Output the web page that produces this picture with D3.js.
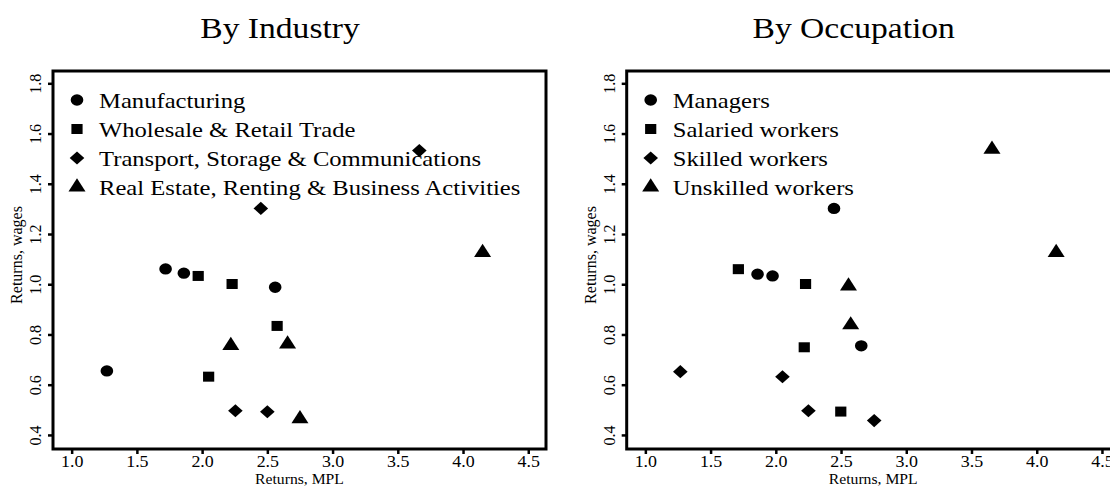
<!DOCTYPE html>
<html>
<head>
<meta charset="utf-8">
<script src="https://cdn.jsdelivr.net/npm/d3@7"></script>
<style>
  body { margin: 0; background: #fff; }
  svg { display: block; }
  text { font-family: "Liberation Serif", "Times New Roman", serif; fill: #000; }
</style>
</head>
<body>
<svg id="chart"></svg>
<script>
// tick values
const mplTicks = [1.0, 1.5, 2.0, 2.5, 3.0, 3.5, 4.0, 4.5];
const wageTicks = [0.4, 0.6, 0.8, 1.0, 1.2, 1.4, 1.6, 1.8];

// panel 1: by industry
const industryNames = ["Manufacturing", "Wholesale & Retail Trade",
  "Transport, Storage & Communications", "Real Estate, Renting & Business Activities"];
const industryMPL = [
  [1.27, 1.72, 1.86, 2.56],
  [1.97, 2.23, 2.575, 2.05],
  [3.665, 2.45, 2.255, 2.50],
  [4.15, 2.22, 2.655, 2.75]
];
const industryWages = [
  [0.655, 1.061, 1.044, 0.988],
  [1.033, 1.001, 0.834, 0.632],
  [1.532, 1.302, 0.496, 0.492],
  [1.126, 0.756, 0.762, 0.464]
];

// panel 2: by occupation
const occupationNames = ["Managers", "Salaried workers", "Skilled workers", "Unskilled workers"];
const occupationMPL = [
  [2.446, 1.86, 1.975, 2.655],
  [1.713, 2.228, 2.218, 2.498],
  [1.268, 2.051, 2.25, 2.754],
  [3.657, 4.149, 2.557, 2.574]
];
const occupationWages = [
  [1.302, 1.040, 1.033, 0.755],
  [1.060, 1.001, 0.749, 0.493],
  [0.652, 0.632, 0.496, 0.457],
  [1.537, 1.126, 0.993, 0.838]
];

const W = 1110, H = 487;
const SX = 1.12; // source picture is a bit wider than tall

const svg = d3.select("#chart").attr("width", W).attr("height", H);

// marker shapes: circle, square, diamond, triangle
const symbols = [
  d3.symbol().type(d3.symbolCircle).size(100),
  d3.symbol().type(d3.symbolSquare).size(100),
  d3.symbol().type(d3.symbolSquare).size(85),
  d3.symbol().type(d3.symbolTriangle).size(100)
];
const symRotate = [0, 0, 45, 0];

function drawPanel(left, title, names, mpl, wages) {
  const w = 493, h = 378, top = 71;

  const x = d3.scaleLinear().domain([0.857, 4.636]).range([0, w]);
  const y = d3.scaleLinear().domain([0.344, 1.849]).range([h, 0]);

  const g = svg.append("g").attr("transform", `translate(${left},${top})`);

  // title (centered on the whole panel region)
  g.append("text")
    .attr("transform", `translate(${227},${-33}) scale(${SX},1)`)
    .attr("text-anchor", "middle")
    .attr("font-size", 30)
    .text(title);

  // axes
  const xAxis = d3.axisBottom(x).tickValues(mplTicks).tickSize(5).tickSizeOuter(0)
    .tickPadding(2).tickFormat(d3.format(".1f"));
  const yAxis = d3.axisLeft(y).tickValues(wageTicks).tickSize(5).tickSizeOuter(0)
    .tickFormat(d3.format(".1f"));

  const xg = g.append("g").attr("transform", `translate(0,${h})`).call(xAxis);
  const yg = g.append("g").call(yAxis);

  [xg, yg].forEach(a => {
    a.attr("font-size", 16).attr("font-family", null);
    a.select(".domain").remove();
    a.selectAll(".tick line").attr("stroke", "#000").attr("stroke-width", 2.5);
    a.selectAll(".tick text").attr("fill", "#000");
  });
  xg.selectAll(".tick text").attr("transform", `scale(${SX},1)`);
  yg.selectAll(".tick text")
    .attr("x", null).attr("dy", null)
    .attr("text-anchor", "middle")
    .attr("transform", "translate(-12,0) rotate(-90)");

  // frame
  g.append("rect")
    .attr("width", w).attr("height", h)
    .attr("fill", "none").attr("stroke", "#000").attr("stroke-width", 3);

  // axis titles
  g.append("text")
    .attr("transform", `translate(${w / 2},${413}) scale(${SX},1)`)
    .attr("text-anchor", "middle")
    .attr("font-size", 14)
    .text("Returns, MPL");

  g.append("text")
    .attr("transform", `translate(${-31},${h / 2 - 5}) rotate(-90)`)
    .attr("text-anchor", "middle")
    .attr("font-size", 16)
    .text("Returns, wages");

  // points
  mpl.forEach((xs, i) => {
    g.append("g").selectAll("path")
      .data(xs.map((v, j) => [v, wages[i][j]]))
      .join("path")
        .attr("d", symbols[i])
        .attr("transform", d => `translate(${x(d[0])},${y(d[1])}) scale(${SX},1) rotate(${symRotate[i]})`)
        .attr("fill", "#000");
  });

  // legend
  const leg = g.append("g").attr("transform", "translate(24,29)");
  names.forEach((n, i) => {
    const row = leg.append("g").attr("transform", `translate(0,${i * 29})`);
    row.append("path")
      .attr("d", symbols[i])
      .attr("transform", `scale(${SX},1) rotate(${symRotate[i]})`)
      .attr("fill", "#000");
    row.append("text")
      .attr("transform", `translate(22,7.5) scale(${SX},1)`)
      .attr("font-size", 22)
      .text(n);
  });
}

drawPanel(53, "By Industry", industryNames, industryMPL, industryWages);
drawPanel(626.7, "By Occupation", occupationNames, occupationMPL, occupationWages);
</script>
</body>
</html>
